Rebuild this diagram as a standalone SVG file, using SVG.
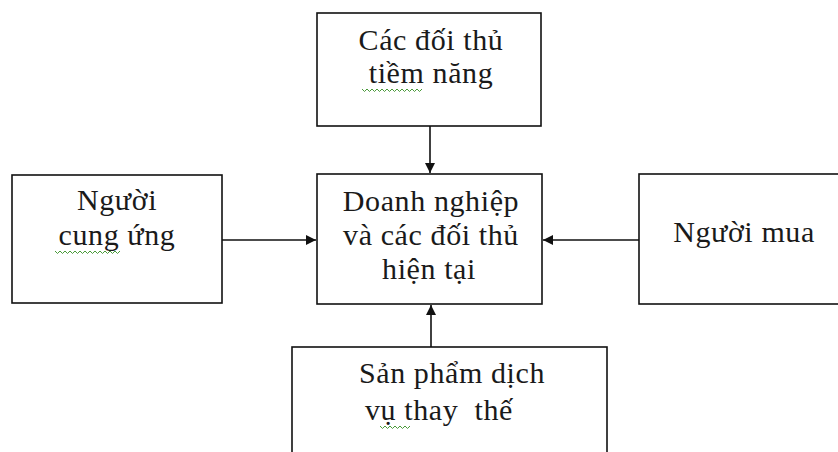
<svg xmlns="http://www.w3.org/2000/svg" width="838" height="452" viewBox="0 0 838 452">
  <style>
    .box { fill: #ffffff; stroke: #111111; stroke-width: 1.6; }
    .lbl { font-family: "Times New Roman", "Liberation Serif", Tinos, serif; font-size: 30px; fill: #1a1a1a; text-anchor: middle; letter-spacing: 0.6px; }
    .wire { stroke: #111111; stroke-width: 1.6; fill: none; marker-end: url(#head); }
    .squiggle { stroke: #4a9a3a; stroke-width: 1; fill: none; }
  </style>
  <defs>
    <marker id="head" viewBox="0 0 10 10" refX="10" refY="5" markerWidth="10" markerHeight="10" markerUnits="userSpaceOnUse" orient="auto">
      <path d="M0,0 L10,5 L0,10 z" fill="#111111"/>
    </marker>
  </defs>
  <rect width="838" height="452" fill="#ffffff"/>

  <!-- connectors -->
  <g id="connectors">
    <line class="wire" x1="430" y1="126" x2="430" y2="173"/>
    <line class="wire" x1="222" y1="240" x2="316" y2="240"/>
    <line class="wire" x1="639" y1="240" x2="543" y2="240"/>
    <line class="wire" x1="431" y1="347" x2="431" y2="305"/>
  </g>

  <g id="potential-rivals">
    <rect class="box" x="317" y="13" width="224" height="113"/>
    <text class="lbl" x="431" y="50">Các đối thủ</text>
    <text class="lbl" x="431" y="83">tiềm năng</text>
    <!-- wavy spell-check underline -->
    <path class="squiggle" d="M362,89 l2.5,2.5 l2.5,-2.5 l2.5,2.5 l2.5,-2.5 l2.5,2.5 l2.5,-2.5 l2.5,2.5 l2.5,-2.5 l2.5,2.5 l2.5,-2.5 l2.5,2.5 l2.5,-2.5 l2.5,2.5 l2.5,-2.5 l2.5,2.5 l2.5,-2.5 l2.5,2.5 l2.5,-2.5 l2.5,2.5 l2.5,-2.5 l2.5,2.5 l2.5,-2.5 l2.5,2.5 l2.5,-2.5"/>
  </g>

  <g id="firm">
    <rect class="box" x="317" y="174" width="225" height="130"/>
    <text class="lbl" x="431" y="211">Doanh nghiệp</text>
    <text class="lbl" x="431" y="245">và các đối thủ</text>
    <text class="lbl" x="429" y="279">hiện tại</text>
  </g>

  <g id="suppliers">
    <rect class="box" x="12" y="175" width="210" height="128"/>
    <text class="lbl" x="117" y="210">Người</text>
    <text class="lbl" x="117" y="245">cung ứng</text>
    <path class="squiggle" d="M55,251 l2.5,2.5 l2.5,-2.5 l2.5,2.5 l2.5,-2.5 l2.5,2.5 l2.5,-2.5 l2.5,2.5 l2.5,-2.5 l2.5,2.5 l2.5,-2.5 l2.5,2.5 l2.5,-2.5 l2.5,2.5 l2.5,-2.5 l2.5,2.5 l2.5,-2.5 l2.5,2.5 l2.5,-2.5 l2.5,2.5 l2.5,-2.5 l2.5,2.5 l2.5,-2.5 l2.5,2.5 l2.5,-2.5 l2.5,2.5 l2.5,-2.5"/>
  </g>

  <g id="buyers">
    <rect class="box" x="639" y="174" width="210" height="130"/>
    <text class="lbl" x="744" y="242">Người mua</text>
  </g>

  <g id="substitutes">
    <rect class="box" x="292" y="347" width="315" height="120"/>
    <text class="lbl" x="452" y="383">Sản phẩm dịch</text>
    <text class="lbl" x="439" y="420" xml:space="preserve">vụ thay  thế</text>
    <path class="squiggle" d="M380,426 l2.5,2.5 l2.5,-2.5 l2.5,2.5 l2.5,-2.5 l2.5,2.5 l2.5,-2.5 l2.5,2.5 l2.5,-2.5 l2.5,2.5 l2.5,-2.5 l2.5,2.5 l2.5,-2.5"/>
  </g>
</svg>
